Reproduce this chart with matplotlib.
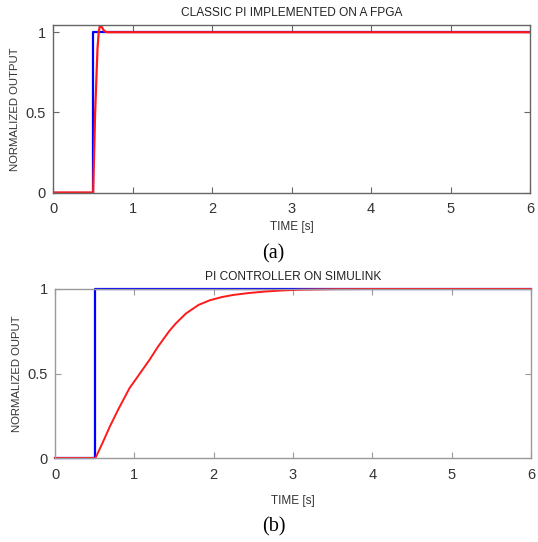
import matplotlib
matplotlib.use("Agg")
import matplotlib.pyplot as plt

# ---- data ----
# (a) FPGA
t_ref_a = [0.0, 0.505, 0.505, 6.0]
y_ref_a = [0.0, 0.0, 1.0, 1.0]
t_out_a = [0.0, 0.505, 0.53, 0.56, 0.575, 0.59, 0.61, 0.64, 0.675, 6.0]
y_out_a = [0.0, 0.0, 0.5, 0.9, 1.0, 1.042, 1.035, 1.01, 1.0, 1.0]

# (b) Simulink
t_ref_b = [0.0, 0.5, 0.5, 6.0]
y_ref_b = [0.0, 0.0, 1.0, 1.0]
t_out_b = [0.0, 0.51, 0.6, 0.69, 0.8, 0.94, 1.07, 1.19, 1.3, 1.44, 1.52, 1.65,
           1.81, 1.95, 2.1, 2.25, 2.44, 2.65, 2.85, 3.1, 3.5, 4.0, 6.0]
y_out_b = [0.0, 0.0, 0.09, 0.185, 0.29, 0.414, 0.5, 0.58, 0.66, 0.751, 0.795, 0.855,
           0.906, 0.933, 0.952, 0.965, 0.976, 0.985, 0.991, 0.996, 0.999, 1.0, 1.0]

xticks = [0, 1, 2, 3, 4, 5, 6]
yticks = [0, 0.5, 1]
ytick_labels = ["0", "0.5", "1"]

plt.rcParams['font.family'] = ['Liberation Sans', 'DejaVu Sans']

W, H = 538, 542
fig = plt.figure(figsize=(W / 100, H / 100), dpi=100)

def style(ax, spine_color):
    ax.set_xlim(0, 6)
    ax.set_xticks(xticks)
    ax.set_xticklabels([str(v) for v in xticks])
    ax.set_yticks(yticks)
    ax.set_yticklabels(ytick_labels)
    ax.tick_params(direction='in', length=4, width=0.8, top=True, right=True,
                   labelsize=10.5, colors='#333333', color=spine_color)
    ax.tick_params(axis='x', pad=7)
    ax.tick_params(axis='y', pad=5)
    for s in ax.spines.values():
        s.set_color(spine_color)
        s.set_linewidth(1.0)

ax1 = fig.add_axes([53 / W, 1 - 192.5 / H, (530 - 53) / W, (192.5 - 25) / H])
ax1.plot(t_ref_a, y_ref_a, color='#0000ff', lw=1.6)
ax1.plot(t_out_a, y_out_a, color='#ff1a1a', lw=1.6)
ax1.set_ylim(0, 1.045)
style(ax1, '#666666')
ax1.set_ylabel("NORMALIZED OUTPUT", fontsize=8.2, color='#333333', labelpad=4)
fig.text(292 / W, 1 - 13 / H, "CLASSIC PI IMPLEMENTED ON A FPGA", ha='center', va='center',
         fontsize=8.6, color='#222222')
fig.text(292 / W, 1 - 227 / H, "TIME [s]", ha='center', va='center', fontsize=8.5, color='#333333')
fig.text(273 / W, 1 - 254 / H, "(a)", ha='center', va='center', fontsize=14.5,
         family=['Liberation Serif', 'DejaVu Serif'])

ax2 = fig.add_axes([55 / W, 1 - 458 / H, (531 - 55) / W, (458 - 289) / H])
ax2.plot(t_ref_b, y_ref_b, color='#0000ff', lw=1.6, clip_on=False)
ax2.plot(t_out_b, y_out_b, color='#ff1a1a', lw=1.4, clip_on=False)
ax2.set_ylim(0, 1)
style(ax2, '#9a9a9a')
ax2.set_ylabel("NORMALIZED OUPUT", fontsize=8.2, color='#333333', labelpad=4)
fig.text(293 / W, 1 - 277 / H, "PI CONTROLLER ON SIMULINK", ha='center', va='center',
         fontsize=8.6, color='#222222')
fig.text(293 / W, 1 - 501 / H, "TIME [s]", ha='center', va='center', fontsize=8.5, color='#333333')
fig.text(274 / W, 1 - 527 / H, "(b)", ha='center', va='center', fontsize=14.5,
         family=['Liberation Serif', 'DejaVu Serif'])

fig.savefig("out.png", dpi=100)
